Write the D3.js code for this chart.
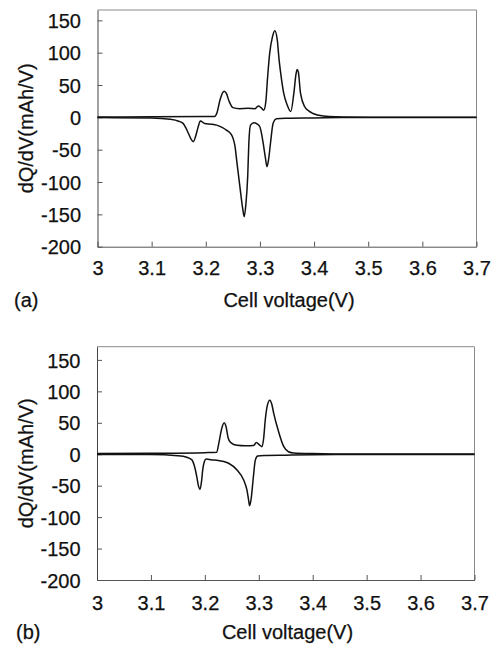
<!DOCTYPE html>
<html>
<head>
<meta charset="utf-8">
<script src="https://cdn.jsdelivr.net/npm/d3@7"></script>
<style>
  html, body { margin: 0; padding: 0; background: #fff; }
  svg { display: block; }
  svg text { font-family: "Liberation Sans", Arial, Helvetica, sans-serif; font-size: 20px; fill: #111; }
</style>
</head>
<body>
<svg id="chart" width="495" height="647"></svg>
<script>
// Axis ticks shared by both panels
const xTicks = [3.0, 3.1, 3.2, 3.3, 3.4, 3.5, 3.6, 3.7];
const yTicks = [150, 100, 50, 0, -50, -100, -150, -200];

// Panel (a): charge (positive) and discharge (negative) dQ/dV curves
const aChargeV = [3.00, 3.10, 3.20, 3.216, 3.221, 3.226, 3.231, 3.234, 3.238, 3.243, 3.250, 3.262, 3.278, 3.291, 3.297, 3.302, 3.307, 3.311, 3.314, 3.318, 3.323, 3.3275, 3.332, 3.3355, 3.340, 3.344, 3.350, 3.357, 3.3626, 3.3665, 3.3687, 3.371, 3.375, 3.383, 3.390, 3.398, 3.417, 3.440, 3.500, 3.600, 3.700];
const aChargeQ = [0.5, 0.8, 1.2, 1.5, 8, 26, 38, 40.5, 37, 25, 15, 13.5, 14, 13.5, 17.5, 15, 11, 25, 60, 99, 124, 134, 120, 88, 58, 37, 20, 9, 37, 66, 74, 70, 37, 16, 10, 6, 2, 0.8, 0.3, 0.2, 0.2];
const aDischargeV = [3.00, 3.10, 3.134, 3.150, 3.158, 3.163, 3.168, 3.173, 3.177, 3.181, 3.186, 3.190, 3.198, 3.210, 3.220, 3.230, 3.238, 3.2476, 3.2506, 3.254, 3.257, 3.263, 3.268, 3.271, 3.274, 3.2775, 3.2795, 3.2826, 3.2888, 3.2945, 3.2998, 3.303, 3.306, 3.310, 3.313, 3.316, 3.3195, 3.3244, 3.3306, 3.35, 3.40, 3.45, 3.50, 3.70];
const aDischargeQ = [-0.3, -1, -3, -6, -9.3, -16, -25, -34, -37.7, -30, -14.5, -5.5, -9.5, -10.5, -12, -15.5, -19.6, -27, -33, -45, -66, -107, -140, -153.6, -135, -90, -40, -12, -8.3, -10, -14.5, -25, -40, -62, -76.3, -65, -40, -9.3, -2.1, -1.5, -1, -0.4, -0.2, -0.2];

// Panel (b)
const bChargeV = [3.00, 3.10, 3.20, 3.222, 3.226, 3.231, 3.236, 3.239, 3.2435, 3.248, 3.2596, 3.275, 3.2905, 3.2955, 3.301, 3.306, 3.309, 3.312, 3.316, 3.3203, 3.324, 3.3277, 3.336, 3.3464, 3.355, 3.365, 3.40, 3.45, 3.50, 3.70];
const bChargeQ = [1.0, 1.5, 2.5, 3, 18, 40, 50, 45, 25, 18.5, 14.3, 13.5, 14, 18.5, 15, 12, 25, 54.5, 78, 86, 80, 65, 38, 12, 4, 2, 1, 0.5, 0.3, 0.3];
const bDischargeV = [3.00, 3.098, 3.150, 3.1665, 3.176, 3.181, 3.185, 3.188, 3.191, 3.194, 3.196, 3.199, 3.2024, 3.213, 3.222, 3.232, 3.244, 3.2596, 3.272, 3.278, 3.281, 3.283, 3.286, 3.2894, 3.2937, 3.298, 3.31, 3.35, 3.45, 3.5, 3.7];
const bDischargeQ = [-0.3, -0.6, -2.5, -4.8, -9, -20, -35.6, -50, -55.7, -42, -25, -12, -7.5, -9, -9.6, -11, -14.3, -25, -41, -56.8, -72, -82, -70, -41, -9, -2.7, -2, -1.5, -0.5, -0.3, -0.3];

const xLabel = "Cell voltage(V)";
const yLabel = "dQ/dV(mAh/V)";

const panels = [
  { tag: "(a)", left: 97.5, right: 476.5, top: 10, bottom: 246.7, yMax: 166,
    tickBase: 275, titleBase: 306.5, titleX: 289, tagX: 14,
    series: [[aChargeV, aChargeQ], [aDischargeV, aDischargeQ]] },
  { tag: "(b)", left: 97, right: 474.5, top: 346.7, bottom: 580, yMax: 171,
    tickBase: 610, titleBase: 639, titleX: 287.5, tagX: 16,
    series: [[bChargeV, bChargeQ], [bDischargeV, bDischargeQ]] }
];

const svg = d3.select("#chart");
const fs = 20;

function styleText(sel) {
  sel.attr("font-size", fs)
    .attr("font-family", "Liberation Sans, Arial, Helvetica, sans-serif")
    .attr("fill", "#111")
    .attr("stroke", "#111")
    .attr("stroke-width", 0.25);
}

panels.forEach(p => {
  const x = d3.scaleLinear().domain([3.0, 3.7]).range([p.left, p.right]);
  const y = d3.scaleLinear().domain([-200, p.yMax]).range([p.bottom, p.top]);
  const g = svg.append("g");

  // light frame on top and right
  g.append("path")
    .attr("d", `M${x(3.0)},${y(p.yMax)}H${x(3.7)}V${y(-200)}`)
    .attr("fill", "none").attr("stroke", "#8a8a8a").attr("stroke-width", 1);

  // bottom axis, ticks pointing inward
  const xa = g.append("g").attr("transform", `translate(0,${y(-200)})`)
    .call(d3.axisBottom(x).tickValues(xTicks).tickSize(-5).tickSizeOuter(0)
      .tickPadding(0).tickFormat(d => String(+d.toFixed(1))));
  xa.attr("font-size", fs).attr("font-family", null);
  xa.select(".domain").attr("stroke", "#555");
  xa.selectAll(".tick line").attr("stroke", "#555");
  xa.selectAll(".tick text")
    .attr("dy", null)
    .attr("y", p.tickBase - y(-200))
    .call(styleText);

  // left axis, ticks pointing inward
  const ya = g.append("g").attr("transform", `translate(${x(3.0)},0)`)
    .call(d3.axisLeft(y).tickValues(yTicks).tickSize(-5).tickSizeOuter(0)
      .tickPadding(16.5).tickFormat(d => String(d)));
  ya.attr("font-size", fs).attr("font-family", null);
  ya.select(".domain").attr("stroke", "#444");
  ya.selectAll(".tick line").attr("stroke", "#555");
  ya.selectAll(".tick text")
    .attr("dy", "0.36em")
    .call(styleText);

  // curves
  const line = d3.line()
    .x(d => x(d[0])).y(d => y(d[1]))
    .curve(d3.curveMonotoneX);
  p.series.forEach(([vs, qs]) => {
    g.append("path")
      .datum(vs.map((v, i) => [v, qs[i]]))
      .attr("d", line)
      .attr("fill", "none")
      .attr("stroke", "#111")
      .attr("stroke-width", 1.5)
      .attr("stroke-linejoin", "round");
  });

  // titles
  g.append("text")
    .attr("x", p.titleX).attr("y", p.titleBase)
    .attr("text-anchor", "middle")
    .call(styleText)
    .text(xLabel);

  const cy = (p.top + p.bottom) / 2;
  g.append("text")
    .attr("transform", `translate(33,${cy}) rotate(-90)`)
    .attr("text-anchor", "middle")
    .call(styleText)
    .text(yLabel);

  g.append("text")
    .attr("x", p.tagX).attr("y", p.titleBase)
    .call(styleText)
    .text(p.tag);
});
</script>
</body>
</html>
